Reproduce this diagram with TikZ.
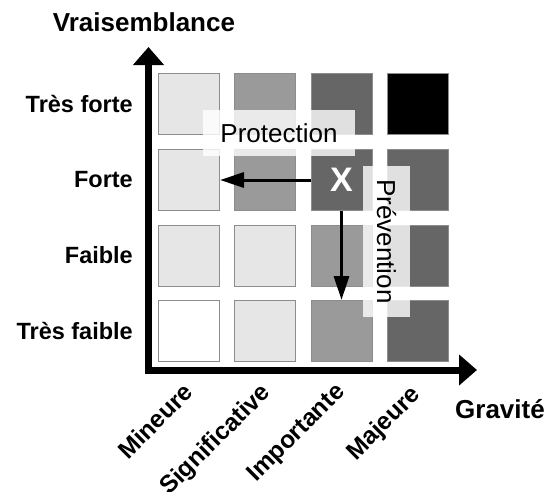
\documentclass[tikz,border=0pt]{standalone}
\usepackage{fontspec}
\setmainfont{Liberation Sans}
\usetikzlibrary{arrows.meta}

\definecolor{cLight}{HTML}{E6E6E6}
\definecolor{cMid}{HTML}{9A9A9A}
\definecolor{cDark}{HTML}{666666}
\definecolor{cEdge}{HTML}{8C8C8C}

\tikzset{
  cell/.style={draw=cEdge, line width=1pt, minimum width=61pt, minimum height=61pt,
    inner sep=0pt, anchor=north west},
  axisline/.style={line width=7pt, line join=miter,
    {Triangle[length=18pt,width=30pt]}-{Triangle[length=18pt,width=30pt]}},
  moveline/.style={line width=3pt, -{Triangle[length=24pt,width=15pt]}},
  rowlabel/.style={font=\bfseries\fontsize{23.5}{26}\selectfont, anchor=east, inner sep=0pt},
  collabel/.style={font=\bfseries\fontsize{24.5}{26}\selectfont, anchor=north east, rotate=45, inner sep=0pt},
  axistitle/.style={font=\bfseries\fontsize{26}{28}\selectfont, inner sep=0pt},
  tag/.style={fill=white, fill opacity=0.8, text opacity=1, inner sep=0pt,
    font=\fontsize{26}{28}\selectfont},
}

\begin{document}
\begin{tikzpicture}[x=1pt, y=-1pt]
\useasboundingbox (0,0) rectangle (547,491);

% risk grid: columns = gravity, rows = likelihood (top row = highest)
\node[cell, fill=cLight] (c11) at (158,73) {};
\node[cell, fill=cMid]   (c12) at (234.3,73) {};
\node[cell, fill=cDark]  (c13) at (310.5,73) {};
\node[cell, fill=black]  (c14) at (386.8,73) {};

\node[cell, fill=cLight] (c21) at (158,149) {};
\node[cell, fill=cMid]   (c22) at (234.3,149) {};
\node[cell, fill=cDark]  (c23) at (310.5,149) {};
\node[cell, fill=cDark]  (c24) at (386.8,149) {};

\node[cell, fill=cLight] (c31) at (158,224.5) {};
\node[cell, fill=cLight] (c32) at (234.3,224.5) {};
\node[cell, fill=cMid]   (c33) at (310.5,224.5) {};
\node[cell, fill=cDark]  (c34) at (386.8,224.5) {};

\node[cell, fill=white]  (c41) at (158,300) {};
\node[cell, fill=cLight] (c42) at (234.3,300) {};
\node[cell, fill=cMid]   (c43) at (310.5,300) {};
\node[cell, fill=cDark]  (c44) at (386.8,300) {};

% current risk
\node[font=\bfseries\fontsize{34}{34}\selectfont, text=white, inner sep=0pt] (x) at (c23.center) {X};

% translucent labels of the two strategies
\node[tag, minimum width=152pt, minimum height=46pt] (prot) at (279,133) {Protection};
\node[tag, minimum width=47pt, minimum height=151pt] (prevbox) at (386.5,241.5) {};
\node[font=\fontsize{26}{28}\selectfont, rotate=-90, inner sep=0pt] (prev) at (prevbox.center) {Prévention};

% risk reduction moves
\draw[moveline] (c23.west) -- (c21.east);
\draw[moveline] (c23.south) -- (c43.north);

% axes
\coordinate (ytip) at (148.5,47);
\coordinate (origin) at (148.5,370);
\coordinate (xtip) at (477,370);
\draw[axisline] (ytip) -- (origin) -- (xtip);

% axis titles
\node[axistitle] (ytitle) at (144,22) {Vraisemblance};
\node[axistitle] (xtitle) at (500,409) {Gravité};

% likelihood levels
\node[rowlabel] (r1) at (133,103.5) {Très forte};
\node[rowlabel] (r2) at (133,179.5) {Forte};
\node[rowlabel] (r3) at (133,255) {Faible};
\node[rowlabel] (r4) at (133,330.5) {Très faible};

% gravity levels
\node[collabel] (g1) at (182,381) {Mineure};
\node[collabel] (g2) at (259,381) {Significative};
\node[collabel] (g3) at (334,381) {Importante};
\node[collabel] (g4) at (409,383) {Majeure};
\end{tikzpicture}
\end{document}
